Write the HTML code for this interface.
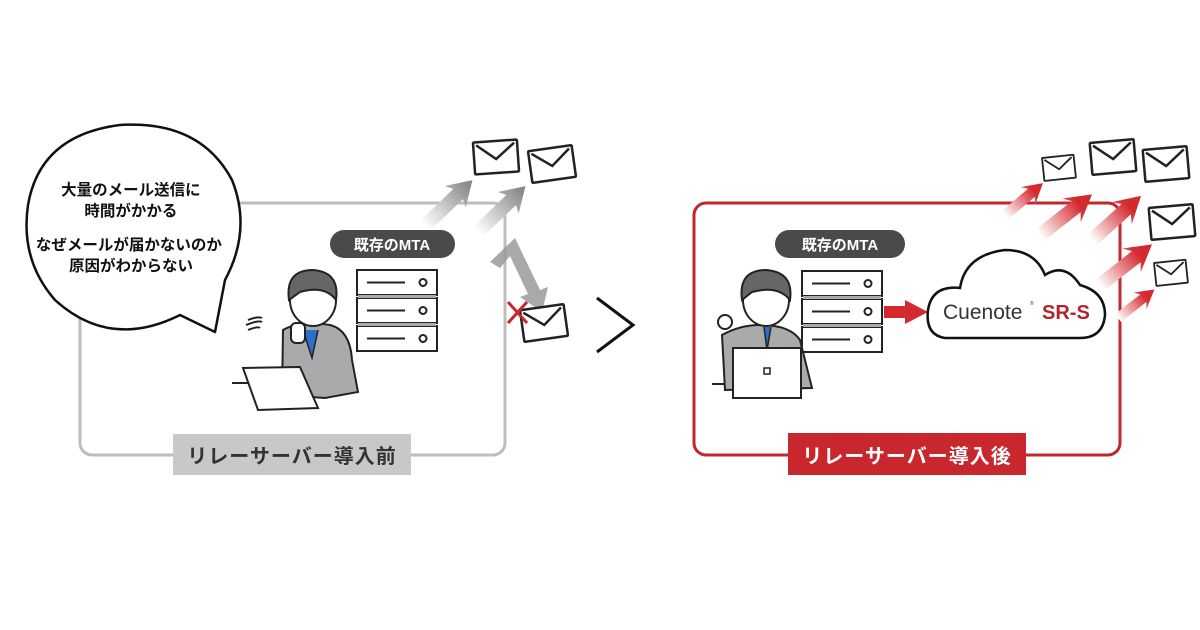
<!DOCTYPE html>
<html><head><meta charset="utf-8"><style>
html,body{margin:0;padding:0;background:#fff;}
svg{display:block;}
text{font-family:"Liberation Sans","Noto Sans CJK JP",sans-serif;}
</style></head><body>
<svg width="1200" height="630" viewBox="0 0 1200 630" xmlns="http://www.w3.org/2000/svg">
<defs>
<linearGradient id="ga" x1="0" y1="0" x2="1" y2="0"><stop offset="0" stop-color="#fff"/><stop offset="0.9" stop-color="#8a8a8a"/></linearGradient>
<linearGradient id="ra" x1="0" y1="0" x2="1" y2="0"><stop offset="0" stop-color="#fff"/><stop offset="0.75" stop-color="#d42a2f"/></linearGradient>
<polygon id="arrG" points="0,-7 46,-7 42,-15 66,0 42,15 46,7 0,7" fill="url(#ga)"/>
<polygon id="arrR" points="0,-7 46,-7 40,-15 66,0 40,15 46,7 0,7" fill="url(#ra)"/>
<g id="env"><rect x="0" y="0" width="44" height="32" fill="#fff" stroke="#222" stroke-width="2.5" rx="1"/><path d="M3 3 L22 18 L41 3" fill="none" stroke="#222" stroke-width="2.5"/></g>
<g id="server">
<rect x="0" y="0" width="80" height="25" fill="#fff" stroke="#222" stroke-width="2"/>
<rect x="0" y="28" width="80" height="25" fill="#fff" stroke="#222" stroke-width="2"/>
<rect x="0" y="56" width="80" height="25" fill="#fff" stroke="#222" stroke-width="2"/>
<rect x="1" y="25" width="78" height="3" fill="#aaa"/><rect x="1" y="53" width="78" height="3" fill="#aaa"/>
<path d="M10 12.5H48M10 40.5H48M10 68.5H48" stroke="#222" stroke-width="2"/>
<circle cx="66" cy="12.5" r="3.5" fill="none" stroke="#222" stroke-width="2"/>
<circle cx="66" cy="40.5" r="3.5" fill="none" stroke="#222" stroke-width="2"/>
<circle cx="66" cy="68.5" r="3.5" fill="none" stroke="#222" stroke-width="2"/>
</g>
</defs>

<!-- LEFT -->
<rect x="80" y="203" width="425" height="252" rx="12" fill="none" stroke="#bdbdbd" stroke-width="3"/>
<use href="#arrG" transform="translate(425 226) rotate(-44)"/>
<use href="#arrG" transform="translate(478 232) rotate(-44)"/>
<path d="M490 262 L515 238 L540 290 L548 287 L542 312 L520 297 L528 294 L510 256 L500 268 Z" fill="#9a9a9a" opacity="0.85"/>
<use href="#env" x="474" y="141" transform="rotate(-4 496 157)"/>
<use href="#env" x="530" y="148" transform="rotate(-8 552 164)"/>
<use href="#env" x="522" y="307" transform="rotate(-8 544 323)"/>
<path d="M508 302 L527 323 M527 302 L508 323" stroke="#c8282d" stroke-width="3"/>
<!-- speech bubble -->
<path d="M180 315 Q110 350 55 300 Q20 260 28 205 Q40 135 120 125 Q200 120 232 180 Q252 230 225 280 L215 332 Z" fill="#fff" stroke="#111" stroke-width="2.5" stroke-linejoin="round"/>
<text font-size="15.5" fill="#111" text-anchor="middle" font-weight="bold">
<tspan x="133" y="195">大量のメール送信に</tspan>
<tspan x="133" y="216">時間がかかる</tspan>
<tspan x="131" y="250">なぜメールが届かないのか</tspan>
<tspan x="131" y="271">原因がわからない</tspan></text>
<!-- MTA -->
<rect x="330" y="230" width="125" height="28" rx="14" fill="#4a4a4a"/>
<text x="392" y="250" font-size="15" fill="#fff" font-weight="bold" text-anchor="middle">既存のMTA</text>
<use href="#server" x="357" y="270"/>
<!-- worried person -->
<path d="M232 383 H330" stroke="#222" stroke-width="2"/>
<path d="M283 330 Q300 320 330 325 Q350 330 352 360 L358 392 L325 398 L282 395 Z" fill="#aaa" stroke="#222" stroke-width="2"/>
<path d="M303 330 L312 358 L318 330" fill="#2a6fc9" stroke="#222" stroke-width="1.5"/>
<ellipse cx="313" cy="300" rx="23" ry="26" fill="#fff" stroke="#222" stroke-width="2"/>
<path d="M289 300 Q285 270 313 270 Q340 272 336 300 Q325 285 300 292 Z" fill="#666" stroke="#222" stroke-width="2"/>
<rect x="291" y="323" width="14" height="20" rx="5" fill="#fff" stroke="#222" stroke-width="2"/>
<path d="M248 320 q10 -4 14 -2 M246 325 q12 -5 16 -3 M248 330 q10 -4 12 -2" stroke="#222" stroke-width="2" fill="none"/>
<path d="M243 368 L300 367 L318 408 L258 410 Z" fill="#fff" stroke="#222" stroke-width="2"/>
<rect x="173" y="434" width="238" height="41" fill="#c8c8c8"/>
<text x="292" y="463" font-size="20" font-weight="bold" fill="#333" text-anchor="middle" letter-spacing="1">リレーサーバー導入前</text>

<!-- chevron -->
<path d="M597 298 L633 325 L597 352" fill="none" stroke="#111" stroke-width="3"/>

<!-- RIGHT -->
<rect x="694" y="203" width="426" height="252" rx="12" fill="none" stroke="#c0282d" stroke-width="3"/>
<use href="#arrR" transform="translate(1005 215) rotate(-40) scale(0.75)"/>
<use href="#arrR" transform="translate(1040 235) rotate(-38)"/>
<use href="#arrR" transform="translate(1092 240) rotate(-42)"/>
<use href="#arrR" transform="translate(1100 285) rotate(-38)"/>
<use href="#arrR" transform="translate(1118 318) rotate(-38) scale(0.7)"/>
<use href="#env" x="0" y="0" transform="translate(1042 158) scale(0.72) rotate(-6)"/>
<use href="#env" x="1091" y="141" transform="rotate(-5 1113 157)"/>
<use href="#env" x="1144" y="148" transform="rotate(-5 1166 164)"/>
<use href="#env" x="1150" y="206" transform="rotate(-5 1172 222)"/>
<use href="#env" x="0" y="0" transform="translate(1154 263) scale(0.72) rotate(-6)"/>
<rect x="775" y="230" width="130" height="28" rx="14" fill="#4a4a4a"/>
<text x="840" y="250" font-size="15" fill="#fff" font-weight="bold" text-anchor="middle">既存のMTA</text>
<use href="#server" x="802" y="271"/>
<path d="M884 306 H905 V300 L928 312 L905 324 V318 H884 Z" fill="#d42a2f"/>
<!-- cloud -->
<path d="M945 338 Q925 335 928 310 Q932 285 960 288 Q965 255 1005 250 Q1035 250 1045 275 Q1065 262 1080 285 Q1105 292 1105 315 Q1103 338 1080 338 Z" fill="#fff" stroke="#111" stroke-width="2.5"/>
<text x="943" y="319" font-size="21" fill="#333">Cuenote</text>
<text x="1030" y="305" font-size="5" fill="#333">®</text>
<text x="1042" y="319" font-size="20" fill="#b0242a" font-weight="bold">SR-S</text>
<!-- happy person -->
<path d="M712 384 H810" stroke="#222" stroke-width="2"/>
<path d="M722 335 Q740 325 760 325 Q790 325 800 340 L812 388 L725 390 Z" fill="#aaa" stroke="#222" stroke-width="2"/>
<path d="M764 327 L767 350 L771 327" fill="#2a6fc9" stroke="#222" stroke-width="1.5"/>
<ellipse cx="766" cy="300" rx="23" ry="26" fill="#fff" stroke="#222" stroke-width="2"/>
<path d="M742 300 Q738 270 766 270 Q794 272 790 300 Q778 285 752 292 Z" fill="#666" stroke="#222" stroke-width="2"/>
<circle cx="725" cy="322" r="7" fill="#fff" stroke="#222" stroke-width="2"/>
<rect x="733" y="348" width="68" height="50" fill="#fff" stroke="#222" stroke-width="2"/>
<rect x="764" y="368" width="6" height="6" fill="none" stroke="#222" stroke-width="1.5"/>
<rect x="788" y="433" width="238" height="42" fill="#c8282d"/>
<text x="907" y="463" font-size="20" font-weight="bold" fill="#fff" text-anchor="middle" letter-spacing="1">リレーサーバー導入後</text>
</svg>
</body></html>
